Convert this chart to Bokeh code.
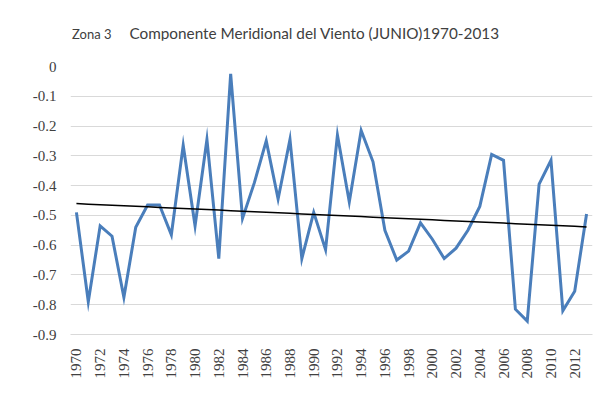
import math
import numpy as np
from bokeh.plotting import figure
from bokeh.models import FixedTicker, Div
from bokeh.layouts import column
from bokeh.embed import file_html
from bokeh.resources import INLINE

years = list(range(1970, 2014))
values = [
    -0.49, -0.79, -0.535, -0.57, -0.775, -0.54, -0.465, -0.465, -0.565, -0.265,
    -0.535, -0.245, -0.645, -0.025, -0.51, -0.39, -0.25, -0.445, -0.245, -0.645,
    -0.49, -0.615, -0.23, -0.455, -0.215, -0.32, -0.55, -0.65, -0.62, -0.525,
    -0.58, -0.645, -0.61, -0.55, -0.47, -0.295, -0.315, -0.815, -0.855, -0.395,
    -0.315, -0.82, -0.755, -0.495,
]
x_ticks = years[::2]
y_ticks = [0, -0.1, -0.2, -0.3, -0.4, -0.5, -0.6, -0.7, -0.8, -0.9]
title_zone = "Zona 3"
title_main = "Componente Meridional del Viento (JUNIO)1970-2013"

slope, intercept = np.polyfit(years, values, 1)
trend = [slope * y + intercept for y in years]

p = figure(width=600, height=360, output_backend="svg", toolbar_location=None,
           x_range=(years[0] - 0.5, years[-1] + 0.5), y_range=(-0.9, 0),
           min_border_left=70, min_border_right=8, min_border_top=26,
           min_border_bottom=66)
p.outline_line_color = None
p.background_fill_color = "white"
p.border_fill_color = "white"

p.line(years, values, line_color="#4A7EBB", line_width=3, line_join="miter")
p.line(years, trend, line_color="black", line_width=1.5)

p.xgrid.grid_line_color = None
p.ygrid.grid_line_color = "#D9D9D9"
p.ygrid.ticker = FixedTicker(ticks=y_ticks)

p.yaxis.ticker = FixedTicker(ticks=y_ticks)
p.yaxis.axis_line_color = None
p.yaxis.major_tick_line_color = None
p.yaxis.major_tick_out = 0
p.yaxis.minor_tick_line_color = None
p.yaxis.minor_tick_out = 0
p.yaxis.major_label_standoff = 14
p.yaxis.major_label_text_font = "Liberation Serif"
p.yaxis.major_label_text_font_size = "15px"
p.yaxis.major_label_text_color = "#404040"
p.yaxis.major_label_overrides = {t: ("0" if t == 0 else f"{t:.1f}") for t in y_ticks}

p.xaxis.ticker = FixedTicker(ticks=x_ticks)
p.xaxis.axis_line_color = "#D9D9D9"
p.xaxis.major_tick_line_color = None
p.xaxis.major_tick_out = 0
p.xaxis.minor_tick_line_color = None
p.xaxis.minor_tick_out = 0
p.xaxis.major_label_orientation = math.pi / 2
p.xaxis.major_label_standoff = 14
p.xaxis.major_label_text_font = "Liberation Serif"
p.xaxis.major_label_text_font_size = "15px"
p.xaxis.major_label_text_color = "#404040"

title_html = (
    '<div style="padding:26px 0 0 72px; font-family:Lato; color:#404040; '
    'line-height:1; white-space:nowrap;">'
    f'<span style="font-size:13px;">{title_zone}</span>'
    '<span style="display:inline-block; width:18px;"></span>'
    f'<span style="font-size:15.3px;">{title_main}</span></div>'
)
title_div = Div(text=title_html, width=600, height=40, margin=0)

layout = column(title_div, p, spacing=0)
open("out.html", "w").write(file_html(layout, INLINE))
